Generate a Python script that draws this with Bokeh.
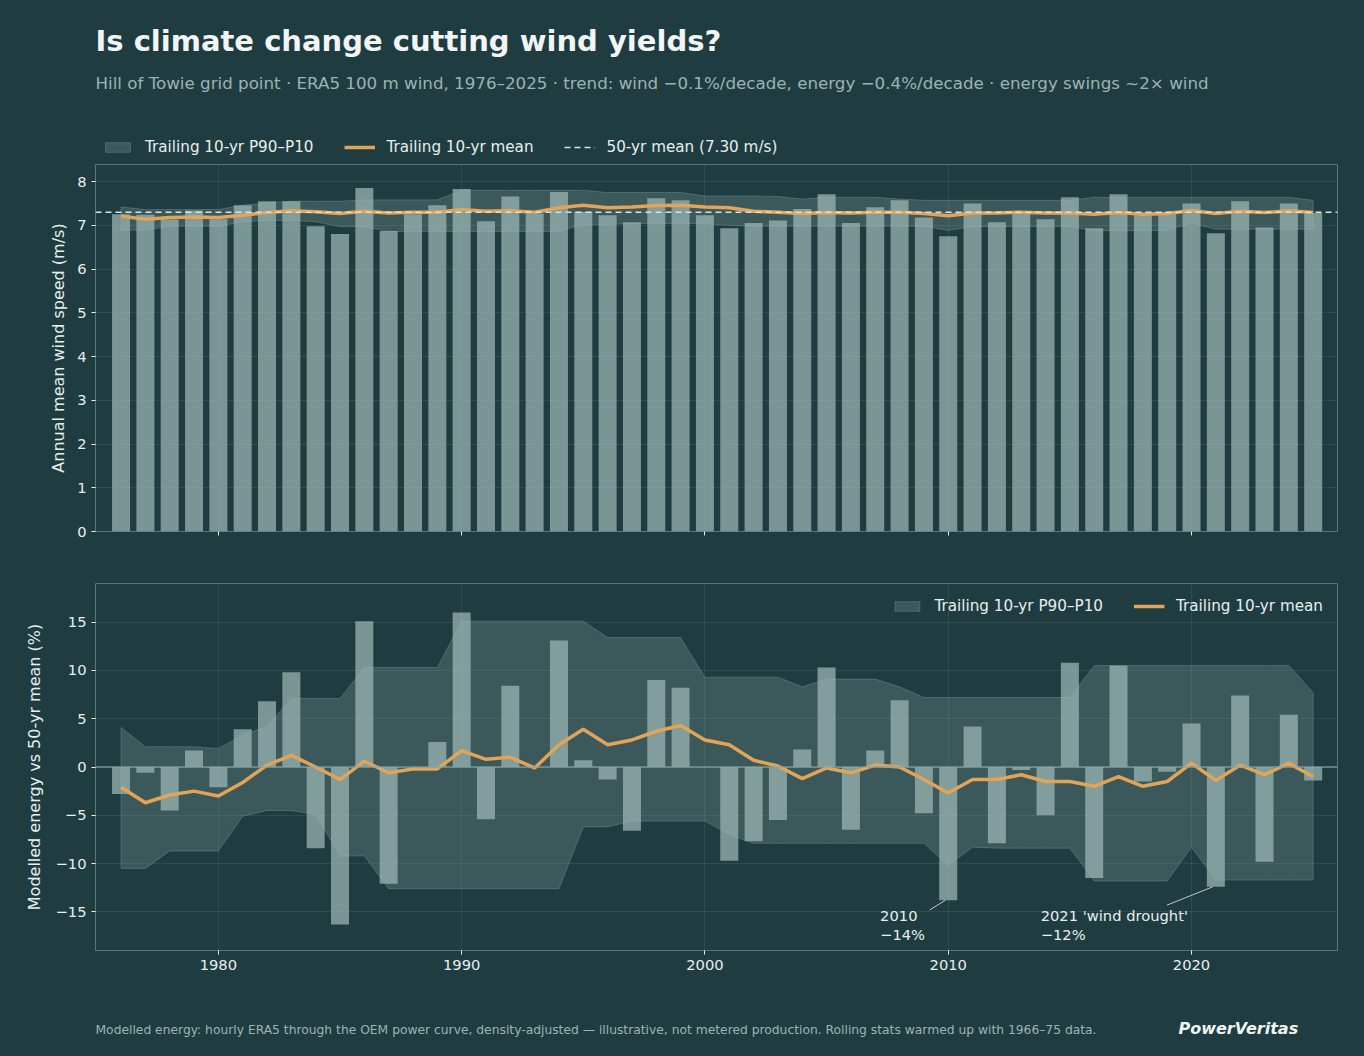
from bokeh.plotting import figure
from bokeh.models import (Legend, LegendItem, Span, Label, FixedTicker, Range1d)
from bokeh.layouts import column
from bokeh.embed import file_html
from bokeh.resources import INLINE

# ---------------- data ----------------
years = list(range(1976, 2026))

wind = [7.25, 7.24, 7.13, 7.34, 7.14, 7.46, 7.55, 7.55, 6.98, 6.80,
        7.85, 6.87, 7.25, 7.46, 7.83, 7.09, 7.66, 7.27, 7.76, 7.31,
        7.23, 7.07, 7.62, 7.57, 7.23, 6.93, 7.05, 7.11, 7.37, 7.71,
        7.05, 7.41, 7.57, 7.18, 6.75, 7.50, 7.07, 7.27, 7.14, 7.64,
        6.93, 7.71, 7.23, 7.25, 7.50, 6.82, 7.55, 6.95, 7.50, 7.28]

wind_mean10 = [7.21, 7.14, 7.18, 7.19, 7.18, 7.23, 7.29, 7.33, 7.31, 7.27,
               7.32, 7.28, 7.30, 7.30, 7.36, 7.32, 7.33, 7.30, 7.40, 7.46,
               7.40, 7.42, 7.45, 7.46, 7.42, 7.40, 7.32, 7.30, 7.27, 7.29,
               7.28, 7.30, 7.30, 7.27, 7.22, 7.28, 7.28, 7.30, 7.28, 7.28,
               7.25, 7.29, 7.25, 7.27, 7.34, 7.27, 7.32, 7.29, 7.33, 7.29]

wind_p90 = [7.42, 7.36, 7.36, 7.36, 7.36, 7.46, 7.51, 7.55, 7.55, 7.55,
            7.58, 7.58, 7.58, 7.58, 7.80, 7.80, 7.80, 7.80, 7.80, 7.80,
            7.75, 7.75, 7.75, 7.75, 7.67, 7.67, 7.67, 7.66, 7.60, 7.64,
            7.64, 7.64, 7.60, 7.57, 7.57, 7.57, 7.57, 7.57, 7.57, 7.57,
            7.64, 7.64, 7.64, 7.64, 7.64, 7.64, 7.64, 7.64, 7.64, 7.57]

wind_p10 = [6.89, 6.89, 6.98, 6.98, 6.98, 7.08, 7.11, 7.11, 7.08, 6.97,
            6.97, 6.86, 6.86, 6.86, 6.86, 6.86, 6.86, 6.86, 6.86, 7.02,
            7.02, 7.04, 7.04, 7.04, 7.04, 7.00, 6.98, 6.98, 6.98, 6.98,
            6.98, 6.98, 6.98, 6.98, 6.88, 6.97, 6.97, 6.97, 6.97, 6.97,
            6.88, 6.88, 6.88, 6.88, 7.05, 6.91, 6.91, 6.91, 6.91, 6.91]

energy = [-2.8, -0.6, -4.5, 1.7, -2.1, 3.9, 6.8, 9.8, -8.4, -16.3,
          15.1, -12.1, 0.0, 2.6, 16.0, -5.4, 8.4, 0.0, 13.1, 0.7,
          -1.3, -6.6, 9.0, 8.2, 0.0, -9.7, -7.7, -5.5, 1.8, 10.3,
          -6.5, 1.7, 6.9, -4.8, -13.8, 4.2, -7.9, -0.3, -5.0, 10.8,
          -11.5, 10.5, -1.5, -0.5, 4.5, -12.4, 7.4, -9.8, 5.4, -1.4]

energy_mean10 = [-2.1, -3.7, -2.9, -2.5, -3.0, -1.6, 0.2, 1.2, 0.0, -1.3,
                 0.6, -0.6, -0.2, -0.2, 1.7, 0.8, 1.0, -0.1, 2.3, 3.9,
                 2.3, 2.8, 3.7, 4.3, 2.8, 2.3, 0.7, 0.1, -1.2, -0.1,
                 -0.6, 0.2, 0.0, -1.3, -2.7, -1.3, -1.3, -0.8, -1.5, -1.5,
                 -2.0, -1.0, -2.0, -1.5, 0.4, -1.4, 0.2, -0.8, 0.4, -1.0]

energy_p90 = [4.1, 2.1, 2.1, 2.1, 1.9, 3.3, 4.2, 7.1, 7.1, 7.1,
              10.3, 10.3, 10.3, 10.3, 15.1, 15.1, 15.1, 15.1, 15.1, 15.1,
              13.4, 13.4, 13.4, 13.4, 9.3, 9.3, 9.3, 9.3, 8.3, 9.1,
              9.1, 9.1, 8.3, 7.2, 7.2, 7.2, 7.2, 7.2, 7.2, 7.2,
              10.5, 10.5, 10.5, 10.5, 10.5, 10.5, 10.5, 10.5, 10.5, 7.7]

energy_p10 = [-10.5, -10.5, -8.7, -8.7, -8.7, -5.1, -4.5, -4.5, -4.9, -9.2,
              -9.2, -12.6, -12.6, -12.6, -12.6, -12.6, -12.6, -12.6, -12.6, -6.2,
              -6.2, -5.6, -5.6, -5.6, -5.6, -7.0, -7.9, -7.9, -7.9, -7.9,
              -7.9, -7.9, -7.9, -7.9, -10.2, -8.3, -8.4, -8.4, -8.4, -8.4,
              -11.8, -11.8, -11.8, -11.8, -8.3, -11.7, -11.7, -11.7, -11.7, -11.7]

MEAN_50 = 7.30
x_ticks = [1980, 1990, 2000, 2010, 2020]
top_ticks = [0, 1, 2, 3, 4, 5, 6, 7, 8]
bot_ticks = [-15, -10, -5, 0, 5, 10, 15]

annotations = [
    dict(year=2010, value=-13.8, text1="2010", text2="\u221214%",
         tx=2007.2, lx=2009.24, ly=-14.8),
    dict(year=2021, value=-12.4, text1="2021 'wind drought'", text2="\u221212%",
         tx=2013.8, lx=2018.99, ly=-14.3),
]

TITLE = "Is climate change cutting wind yields?"
SUBTITLE = ("Hill of Towie grid point \u00b7 ERA5 100 m wind, 1976\u20132025 \u00b7 "
            "trend: wind \u22120.1%/decade, energy \u22120.4%/decade \u00b7 energy swings ~2\u00d7 wind")
FOOTER = ("Modelled energy: hourly ERA5 through the OEM power curve, density-adjusted \u2014 "
          "illustrative, not metered production. Rolling stats warmed up with 1966\u201375 data.")
BRAND = "PowerVeritas"

# ---------------- style ----------------
BG = "#1f3d41"
BAR = "#9fbab8"
BAND = "#7d9998"
BAND_LINE = "#8aa6a5"
ORANGE = "#e3a457"
TXT = "#e8eeee"
SUB = "#9db3b1"
FONT = "DejaVu Sans"
OUTLINE = "#58777a"
FS = "14.7px"
LFS = "15.2px"

X0, X1 = 1974.95, 2026.0
W = 1364
LEFT, RIGHT = 95, 27
FRAME_H = 367


def blank(height):
    f = figure(width=W, height=height, output_backend="svg", toolbar_location=None,
               x_range=Range1d(0, 1), y_range=Range1d(0, 1),
               min_border=0, min_border_left=0, min_border_right=0,
               min_border_top=0, min_border_bottom=0)
    f.axis.visible = False
    f.grid.visible = False
    f.outline_line_color = None
    f.background_fill_color = BG
    f.border_fill_color = BG
    return f


def style(p):
    p.background_fill_color = BG
    p.border_fill_color = BG
    p.outline_line_color = OUTLINE
    p.outline_line_width = 1
    p.grid.grid_line_color = "#ffffff"
    p.grid.grid_line_alpha = 0.08
    for ax in (p.xaxis[0], p.yaxis[0]):
        ax.axis_line_color = None
        ax.major_tick_line_color = TXT
        ax.major_tick_out = 4
        ax.major_tick_in = 0
        ax.minor_tick_line_color = None
        ax.major_label_text_color = TXT
        ax.major_label_text_font = FONT
        ax.major_label_text_font_size = FS
        ax.axis_label_text_color = TXT
        ax.axis_label_text_font = FONT
        ax.axis_label_text_font_size = "16px"
        ax.axis_label_text_font_style = "normal"
    p.xaxis.ticker = FixedTicker(ticks=x_ticks)


def band_patch(lo, hi):
    return years + years[::-1], hi + lo[::-1]


# ---------------- header (title, subtitle, top legend) ----------------
HEAD_H = 164
head = blank(HEAD_H)
head.add_layout(Label(x=0, y=HEAD_H - 40, x_units="screen", y_units="screen",
                      text=TITLE, text_font=FONT, text_font_size="29px",
                      text_font_style="bold", text_color="#f2f5f5",
                      text_baseline="middle"))
head.add_layout(Label(x=0, y=HEAD_H - 82, x_units="screen", y_units="screen",
                      text=SUBTITLE, text_font=FONT, text_font_size="16.7px",
                      text_color=SUB, text_baseline="middle"))
# legend proxies (off-canvas, only their styles are used by the legend)
h_band = head.patch(x=[-5, -4, -4], y=[-5, -5, -4], fill_color=BAND, fill_alpha=0.3,
                    line_color=BAND_LINE, line_alpha=0.35, line_width=1)
h_mean = head.line(x=[-5, -4], y=[-5, -5], line_color=ORANGE, line_width=3.5)
h_dash = head.line(x=[-5, -4], y=[-5, -5], line_color="#d8e2e2", line_dash="6 4",
                   line_width=1.5)
leg0 = Legend(items=[LegendItem(label="Trailing 10-yr P90\u2013P10", renderers=[h_band]),
                     LegendItem(label="Trailing 10-yr mean", renderers=[h_mean]),
                     LegendItem(label="50-yr mean (7.30 m/s)", renderers=[h_dash])],
              orientation="horizontal", location=(1, 2),
              background_fill_alpha=0, border_line_alpha=0,
              label_text_color=TXT, label_text_font=FONT,
              label_text_font_size=LFS, glyph_width=31, glyph_height=12,
              label_standoff=12, spacing=30, padding=6, margin=0)
head.add_layout(leg0)

# ---------------- top chart ----------------
p1 = figure(width=W, height=FRAME_H + 26, output_backend="svg",
            toolbar_location=None, x_range=Range1d(X0, X1),
            y_range=Range1d(0, 8.39),
            min_border_left=LEFT, min_border_right=RIGHT,
            min_border_top=0, min_border_bottom=26)
style(p1)
p1.yaxis.ticker = FixedTicker(ticks=top_ticks)
p1.yaxis.axis_label = "Annual mean wind speed (m/s)"
p1.yaxis.axis_label_standoff = 6
p1.xaxis.major_label_text_color = None

bx, by = band_patch(wind_p10, wind_p90)
p1.patch(bx, by, fill_color=BAND, fill_alpha=0.3,
         line_color=BAND_LINE, line_alpha=0.35, line_width=1)
p1.vbar(x=years, top=wind, bottom=0, width=0.74, fill_color=BAR,
        fill_alpha=0.7, line_color=None)
p1.line(years, wind_mean10, line_color=ORANGE, line_width=3.5)
p1.add_layout(Span(location=MEAN_50, dimension="width", line_color="#d8e2e2",
                   line_dash="6 4", line_width=1.5))

# ---------------- bottom chart ----------------
p2 = figure(width=W, height=26 + FRAME_H + 40, output_backend="svg",
            toolbar_location=None, x_range=p1.x_range,
            y_range=Range1d(-19, 19),
            min_border_left=LEFT, min_border_right=RIGHT,
            min_border_top=26, min_border_bottom=40)
style(p2)
p2.yaxis.ticker = FixedTicker(ticks=bot_ticks)
p2.yaxis.major_label_overrides = {t: (("\u2212" + str(-t)) if t < 0 else str(t)) for t in bot_ticks}
p2.yaxis.axis_label = "Modelled energy vs 50-yr mean (%)"
p2.yaxis.axis_label_standoff = 9

ex, ey = band_patch(energy_p10, energy_p90)
r_band2 = p2.patch(ex, ey, fill_color=BAND, fill_alpha=0.3,
                   line_color=BAND_LINE, line_alpha=0.35, line_width=1)
p2.vbar(x=years, top=energy, bottom=0, width=0.74, fill_color=BAR,
        fill_alpha=0.7, line_color=None)
p2.add_layout(Span(location=0, dimension="width", line_color="#8aa6a5",
                   line_width=1.5, line_alpha=0.8))
r_mean2 = p2.line(years, energy_mean10, line_color=ORANGE, line_width=3.5)

leg2 = Legend(items=[LegendItem(label="Trailing 10-yr P90\u2013P10", renderers=[r_band2]),
                     LegendItem(label="Trailing 10-yr mean", renderers=[r_mean2])],
              orientation="horizontal", location="top_right",
              background_fill_alpha=0, border_line_alpha=0,
              label_text_color=TXT, label_text_font=FONT,
              label_text_font_size=LFS, glyph_width=31, glyph_height=12,
              label_standoff=12, spacing=30, padding=6, margin=8)
p2.add_layout(leg2)

for a in annotations:
    p2.add_layout(Label(x=a["tx"], y=-15.4, text=a["text1"], text_font=FONT,
                        text_font_size=FS, text_color=TXT, text_baseline="middle"))
    p2.add_layout(Label(x=a["tx"], y=-17.3, text=a["text2"], text_font=FONT,
                        text_font_size=FS, text_color=TXT, text_baseline="middle"))
    p2.segment(x0=[a["lx"]], y0=[a["ly"]], x1=[a["year"] - 0.12], y1=[a["value"]],
               line_color="#b8caca", line_width=1)

# ---------------- footer ----------------
FOOT_H = 1056 - HEAD_H - (FRAME_H + 26) - (26 + FRAME_H + 40)
foot = blank(FOOT_H)
foot.add_layout(Label(x=0, y=FOOT_H - 39, x_units="screen", y_units="screen",
                      text=FOOTER, text_font=FONT, text_font_size="12.3px",
                      text_color=SUB, text_baseline="middle"))
foot.add_layout(Label(x=1083, y=FOOT_H - 38, x_units="screen", y_units="screen",
                      text=BRAND, text_font=FONT, text_font_size="16px",
                      text_font_style="bold italic", text_color="#f2f5f5",
                      text_baseline="middle"))

layout = column(head, p1, p2, foot, spacing=0)
html = file_html(layout, INLINE)
html = html.replace("<head>", "<head><style>html, body {background:#1f3d41; margin:0; padding:0;}</style>", 1)
open("out.html", "w").write(html)
